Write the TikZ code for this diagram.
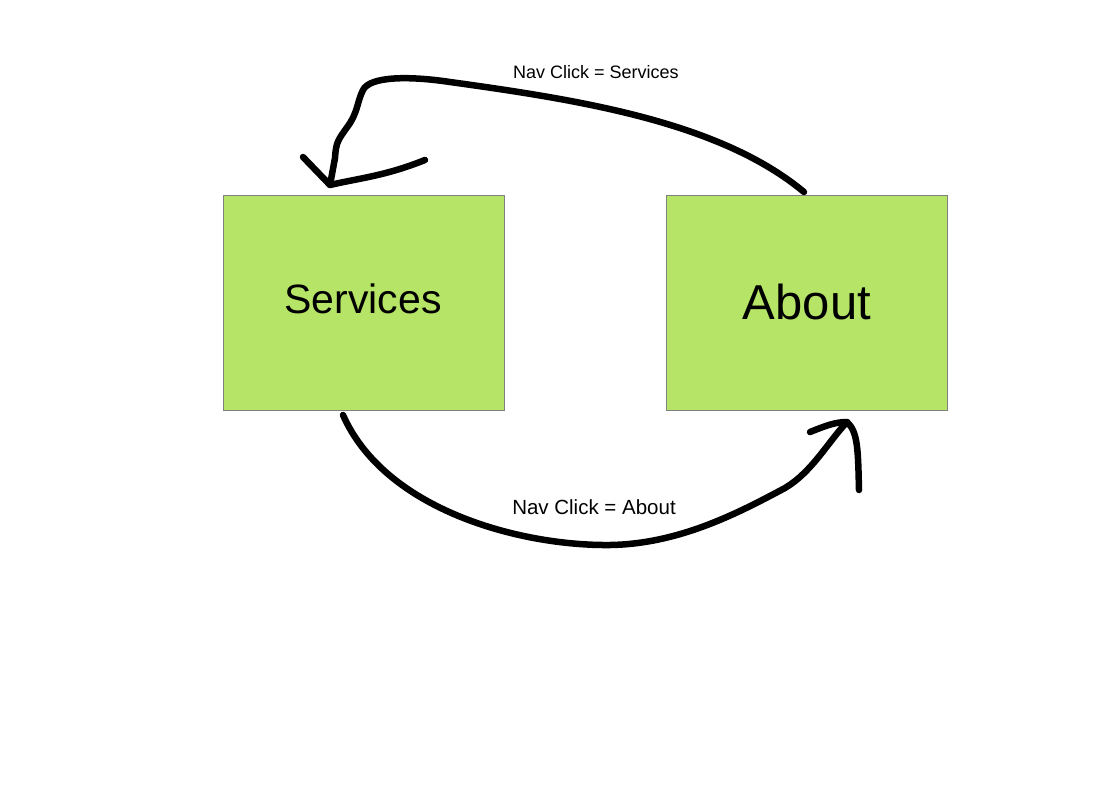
\documentclass[tikz,border=0pt]{standalone}
\usepackage{fontspec}
\setmainfont{Liberation Sans}
\definecolor{boxgreen}{HTML}{B6E466}
\definecolor{boxline}{HTML}{808080}
\tikzset{
  screen/.style={draw=boxline, line width=1pt, fill=boxgreen, minimum width=281pt, minimum height=215pt, inner sep=0pt},
  ink/.style={line width=6.5pt, line cap=round, line join=round, black},
  lbl/.style={inner sep=0pt}
}
\begin{document}
\begin{tikzpicture}[x=1pt,y=-1pt]
\useasboundingbox (0,0) rectangle (1112,796);
\node[screen] (services) at (363.5,302.5) {};
\node[screen] (about) at (806.5,302.5) {};
\node[lbl, font=\fontsize{41}{45}\selectfont] (servicesT) at (363,299) {Services};
\node[lbl, font=\fontsize{49}{53}\selectfont] (aboutT) at (807,302) {About};
\node[lbl, font=\fontsize{18}{20}\selectfont] (top) at (596,72) {Nav Click = Services};
\node[lbl, font=\fontsize{20.5}{22}\selectfont] (bottom) at (594,507) {Nav Click = About};
% top connector
\coordinate (t1) at (330,185);
\coordinate (tb1) at (303,157);
\coordinate (tb2) at (425,160);
\draw[ink] (804,192) .. controls (720,122) and (580,100) .. (450,82)
  .. controls (410,76) and (370,76) .. (363,90)
  .. controls (357,102) and (358,112) .. (348,126)
  .. controls (338,140) and (336,142) .. (335,158) -- (t1);
\draw[ink] (tb1) -- (t1) .. controls (360,178) and (385,176) .. (tb2);
% bottom connector
\coordinate (b1) at (847,422);
\coordinate (bb1) at (810,432);
\coordinate (bb2) at (859,490);
\draw[ink] (343,415) .. controls (385,510) and (520,546) .. (610,545)
  .. controls (680,544) and (740,512) .. (785,488)
  .. controls (812,472) and (828,442) .. (b1);
\draw[ink] (bb1) .. controls (825,426) and (835,422) .. (b1)
  .. controls (858,432) and (858,450) .. (bb2);
\end{tikzpicture}
\end{document}
